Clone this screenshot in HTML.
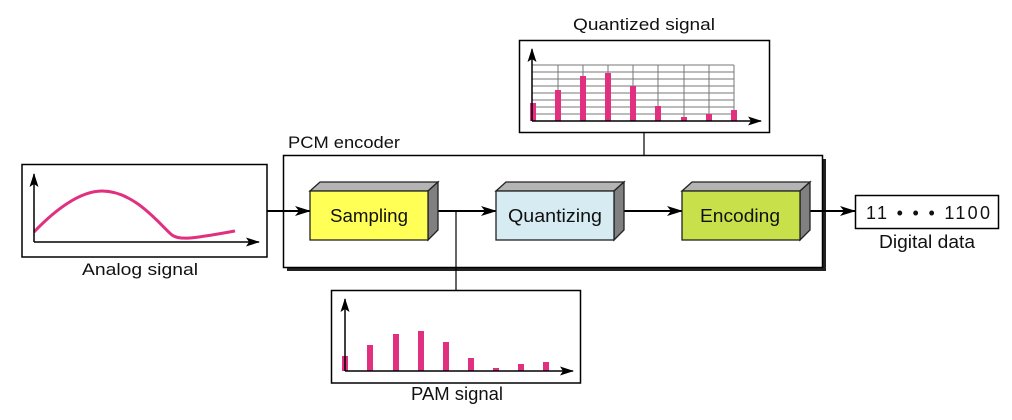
<!DOCTYPE html>
<html><head><meta charset="utf-8"><style>
html,body{margin:0;padding:0;background:#fff;}
svg{display:block;}
text{font-family:"Liberation Sans",sans-serif;font-size:17px;fill:#111;}
</style></head><body>
<svg width="1012" height="420" viewBox="0 0 1012 420" xmlns="http://www.w3.org/2000/svg">
<defs>
<marker id="ah" markerWidth="16" markerHeight="10" refX="15" refY="5" orient="auto" markerUnits="userSpaceOnUse">
<path d="M0,0 L16,5 L0,10 L4,5 Z" fill="#000"/></marker>
<marker id="ahs" markerWidth="14" markerHeight="9" refX="13" refY="4.5" orient="auto" markerUnits="userSpaceOnUse">
<path d="M0,0 L14,4.5 L0,9 L3,4.5 Z" fill="#000"/></marker>
</defs>
<!-- Quantized signal -->
<text x="573" y="30" textLength="142" lengthAdjust="spacingAndGlyphs">Quantized signal</text>
<rect x="519.5" y="40.5" width="250" height="92" fill="#fff" stroke="#000" stroke-width="1.5"/>
<g stroke="#777" stroke-width="1">
<line x1="532" y1="65" x2="734" y2="65"/><line x1="532" y1="72" x2="734" y2="72"/><line x1="532" y1="79" x2="734" y2="79"/><line x1="532" y1="86" x2="734" y2="86"/><line x1="532" y1="93" x2="734" y2="93"/><line x1="532" y1="100" x2="734" y2="100"/><line x1="532" y1="107" x2="734" y2="107"/><line x1="532" y1="114" x2="734" y2="114"/>
<line x1="558" y1="65" x2="558" y2="121"/><line x1="583" y1="65" x2="583" y2="121"/><line x1="608" y1="65" x2="608" y2="121"/><line x1="633" y1="65" x2="633" y2="121"/><line x1="658" y1="65" x2="658" y2="121"/><line x1="684" y1="65" x2="684" y2="121"/><line x1="709" y1="65" x2="709" y2="121"/><line x1="734" y1="65" x2="734" y2="121"/>
</g>
<g fill="#e0307f">
<rect x="530" y="103" width="6" height="18"/><rect x="555" y="90" width="6" height="31"/><rect x="580" y="76" width="6" height="45"/><rect x="605" y="73" width="6" height="48"/><rect x="630" y="86" width="6" height="35"/><rect x="655" y="106" width="6" height="15"/><rect x="681" y="117" width="6" height="4"/><rect x="706" y="114" width="6" height="7"/><rect x="731" y="110" width="6" height="11"/>
</g>
<line x1="532" y1="121" x2="532" y2="49" stroke="#000" stroke-width="1.5" marker-end="url(#ahs)"/>
<line x1="532" y1="121" x2="761" y2="121" stroke="#000" stroke-width="1.5" marker-end="url(#ahs)"/>
<line x1="644" y1="132" x2="644" y2="211" stroke="#000" stroke-width="1.2"/>

<!-- PCM encoder -->
<text x="288" y="148" textLength="112" lengthAdjust="spacingAndGlyphs">PCM encoder</text>
<rect x="287" y="159" width="539" height="112" fill="#222"/>
<rect x="283.5" y="155.5" width="539" height="112" fill="#fff" stroke="#000" stroke-width="1.5"/>

<!-- Analog -->
<rect x="22" y="164.5" width="245" height="92.5" fill="#fff" stroke="#000" stroke-width="1.5"/>
<path d="M34,232 C55,210 80,191 102,191 C135,191 160,225 172,235 C180,241 195,238 235,231" fill="none" stroke="#e0307f" stroke-width="3"/>
<line x1="34" y1="242" x2="34" y2="174" stroke="#000" stroke-width="1.5" marker-end="url(#ahs)"/>
<line x1="34" y1="242" x2="259" y2="242" stroke="#000" stroke-width="1.5" marker-end="url(#ahs)"/>
<text x="82" y="275" textLength="116" lengthAdjust="spacingAndGlyphs">Analog signal</text>

<!-- connectors -->
<g stroke="#000" stroke-width="2" fill="none">
<line x1="267" y1="211" x2="310" y2="211" marker-end="url(#ah)"/>
<line x1="433" y1="211" x2="496" y2="211" marker-end="url(#ah)"/>
<line x1="619" y1="211" x2="682" y2="211" marker-end="url(#ah)"/>
<line x1="804" y1="211" x2="855" y2="211" marker-end="url(#ah)"/>
</g>
<line x1="456" y1="211" x2="456" y2="290" stroke="#000" stroke-width="1.2"/>

<!-- blocks -->
<g stroke="#222" stroke-width="1.3">
<polygon points="310,191 320,182 438,182 428,191" fill="#b4b4b4"/>
<polygon points="428,191 438,182 438,230 428,240" fill="#808080"/>
<rect x="310" y="191" width="118" height="49" fill="#ffff55"/>
<polygon points="496,191 506,182 624,182 614,191" fill="#b4b4b4"/>
<polygon points="614,191 624,182 624,230 614,240" fill="#808080"/>
<rect x="496" y="191" width="118" height="49" fill="#d6ecf2"/>
<polygon points="682,191 692,182 810,182 800,191" fill="#b4b4b4"/>
<polygon points="800,191 810,182 810,230 800,240" fill="#808080"/>
<rect x="682" y="191" width="118" height="49" fill="#c8e04a"/>
</g>
<text x="330" y="222" textLength="78" lengthAdjust="spacingAndGlyphs" style="font-size:18px">Sampling</text>
<text x="508" y="222" textLength="94" lengthAdjust="spacingAndGlyphs" style="font-size:18px">Quantizing</text>
<text x="700" y="222" textLength="80" lengthAdjust="spacingAndGlyphs" style="font-size:18px">Encoding</text>

<!-- PAM -->
<rect x="331.5" y="290.5" width="249" height="92.5" fill="#fff" stroke="#000" stroke-width="1.5"/>
<g fill="#e0307f">
<rect x="342" y="356" width="6" height="15"/><rect x="367" y="345" width="6" height="26"/><rect x="393" y="334" width="6" height="37"/><rect x="418" y="331" width="6" height="40"/><rect x="443" y="342" width="6" height="29"/><rect x="468" y="358" width="6" height="13"/><rect x="493" y="368" width="6" height="3"/><rect x="518" y="364" width="6" height="7"/><rect x="543" y="362" width="6" height="9"/>
</g>
<line x1="345" y1="371" x2="345" y2="299" stroke="#000" stroke-width="1.5" marker-end="url(#ahs)"/>
<line x1="345" y1="371" x2="573" y2="371" stroke="#000" stroke-width="1.5" marker-end="url(#ahs)"/>
<text x="411" y="400" textLength="92" lengthAdjust="spacingAndGlyphs" style="font-size:18px">PAM signal</text>

<!-- Digital -->
<rect x="855.5" y="195.5" width="143" height="33" fill="#fff" stroke="#000" stroke-width="1.5"/>
<text x="866" y="219" textLength="124" lengthAdjust="spacing" style="font-size:18px">11 • • • 1100</text>
<text x="879" y="248" textLength="96" lengthAdjust="spacingAndGlyphs" style="font-size:18px">Digital data</text>
</svg>
</body></html>
